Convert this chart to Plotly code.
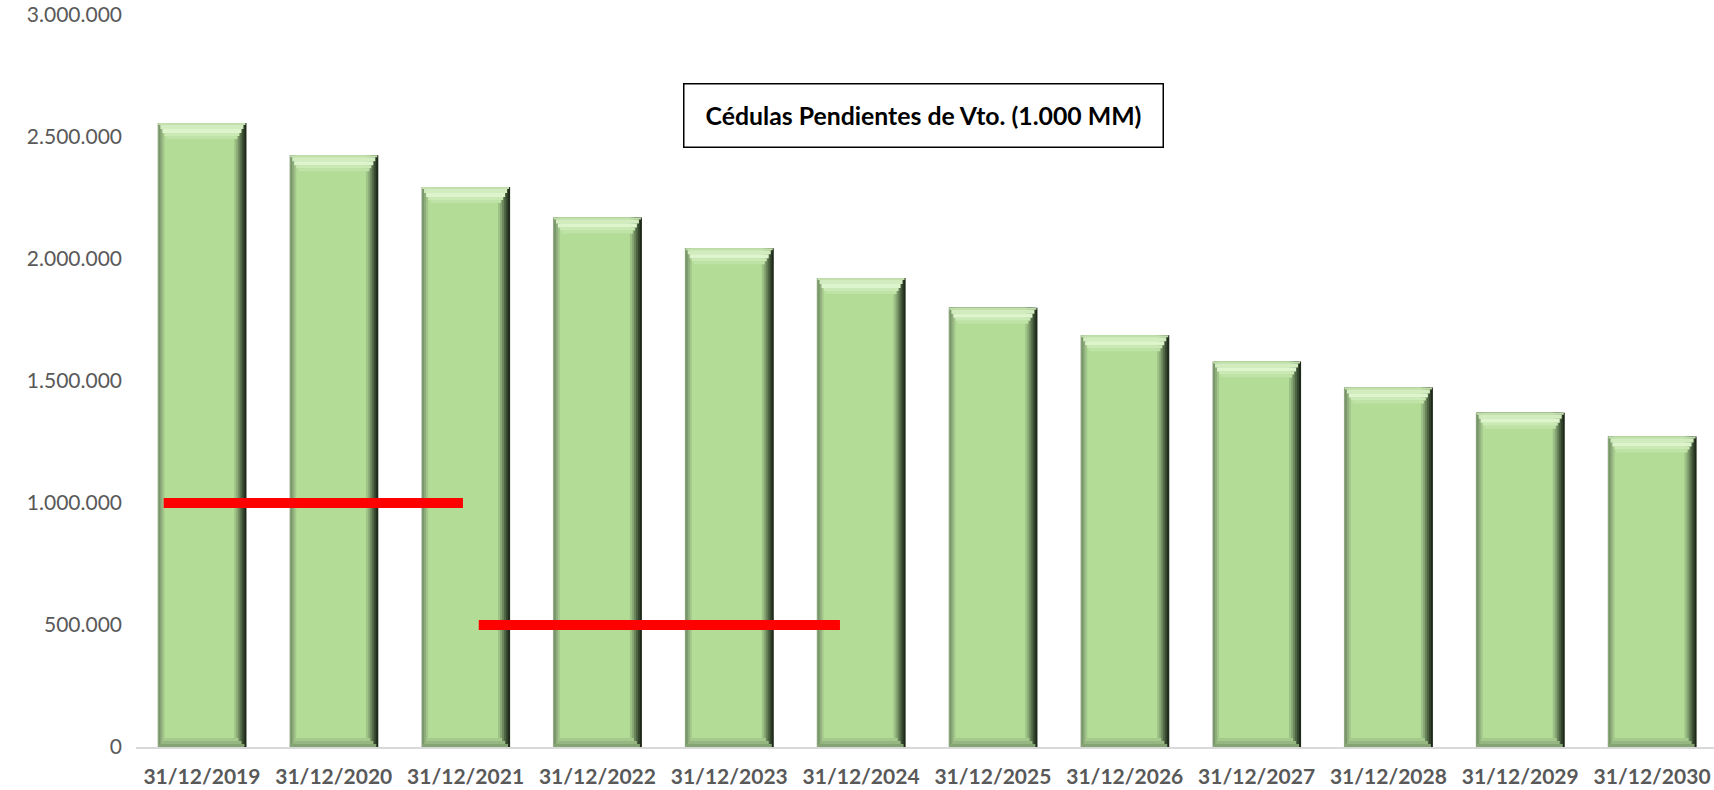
import plotly.graph_objects as go

# ---------------- data ----------------
dates = ["31/12/2019", "31/12/2020", "31/12/2021", "31/12/2022", "31/12/2023", "31/12/2024",
         "31/12/2025", "31/12/2026", "31/12/2027", "31/12/2028", "31/12/2029", "31/12/2030"]
values = [2557000, 2425000, 2295000, 2170000, 2044000, 1922000,
          1800000, 1688000, 1580000, 1473000, 1370000, 1273000]
limit_levels = [1000000, 500000]
limit_x_start = [-0.29, 2.10]
limit_x_end = [1.98, 4.84]
y_ticks = [0, 500000, 1000000, 1500000, 2000000, 2500000, 3000000]
title_text = "Cédulas Pendientes de Vto. (1.000 MM)"

# ---------------- layout geometry ----------------
W, H = 1714, 790
ML, MR, MT, MB = 136, 0, 15, 43
PITCH = 131.83  # px per category
PW, PH = W - ML - MR, H - MT - MB
XR = [-0.5, -0.5 + PW / PITCH]
YR = [0, 3000000]
px_x = PW / (XR[1] - XR[0])
px_y = PH / (YR[1] - YR[0])
BAR_W = 89  # px
xs = list(range(len(dates)))

fig = go.Figure()


def add_band(x0, x1, color, mode="full", r0=0, r1=0, main=False):
    if mode == "full":
        base = [0] * len(values)
        y = values
    elif mode == "top":
        base = [v - r1 / px_y for v in values]
        y = [(r1 - r0) / px_y] * len(values)
    else:  # bottom
        base = [r0 / px_y] * len(values)
        y = [(r1 - r0) / px_y] * len(values)
    fig.add_trace(go.Bar(
        x=xs, y=y, base=base,
        offset=(x0 - BAR_W / 2) / px_x, width=(x1 - x0) / px_x,
        marker=dict(color=color, line=dict(width=0)),
        showlegend=False,
        hoverinfo="skip" if not main else None,
        customdata=dates if main else None,
        hovertemplate="%{customdata}: %{y:,.0f}<extra></extra>" if main else None,
    ))


# side gradients (full height)
full_layers = [
    (0, 89, "#c4ccbf"),
    (1, 89, "#1f2a1b"),
    (1, 87, "#34452d"),
    (1, 85, "#4e6543"),
    (1, 83, "#6b865c"),
    (1, 81, "#88a774"),
    (1, 79, "#9fc387"),
    (1, 77, "#acd291"),
    (1, 77, "#7a966c"),
    (3, 77, "#8fae7c"),
    (5, 77, "#a3c68b"),
]
for x0, x1, c in full_layers:
    add_band(x0, x1, c)
add_band(7, 77, "#b3dc97", main=True)

# top bevel
top_layers = [
    (1, 88, "#c3dfad", 0, 2),
    (3, 86, "#d2ecbf", 2, 6),
    (5, 84, "#ddf4cd", 6, 10),
    (7, 82, "#cbe9b4", 10, 13),
    (9, 80, "#bfe2a6", 13, 16),
]
for x0, x1, c, r0, r1 in top_layers:
    add_band(x0, x1, c, mode="top", r0=r0, r1=r1)

# bottom bevel
bottom_layers = [
    (1, 87, "#86a473", 0, 3),
    (4, 84, "#96b781", 3, 6),
    (6, 81, "#a5c98d", 6, 9),
]
for x0, x1, c, r0, r1 in bottom_layers:
    add_band(x0, x1, c, mode="bottom", r0=r0, r1=r1)

# red limit lines
for lvl, xa, xb in zip(limit_levels, limit_x_start, limit_x_end):
    fig.add_trace(go.Scatter(
        x=[xa, xb], y=[lvl, lvl], mode="lines",
        line=dict(color="#ff0000", width=10),
        showlegend=False, hoverinfo="skip",
    ))

fig.add_annotation(
    xref="paper", yref="paper",
    x=(923 - ML) / PW, y=(H - MB - 116) / PH,
    xanchor="center", yanchor="middle",
    text="<b>" + title_text + "</b>",
    font=dict(family="Lato", size=24.8, color="#000000"),
    showarrow=False,
    bordercolor="#000000", borderwidth=1.5, borderpad=0,
    width=478, height=62, bgcolor="#ffffff", align="center",
)

fig.update_layout(
    width=W, height=H,
    margin=dict(l=ML, r=MR, t=MT, b=MB, pad=0),
    paper_bgcolor="#ffffff", plot_bgcolor="#ffffff",
    barmode="overlay",
    separators=",.",
    showlegend=False,
    font=dict(family="Lato", color="#595959"),
    xaxis=dict(
        range=XR, tickmode="array", tickvals=xs, ticktext=dates,
        tickfont=dict(family="Lato", size=21, color="#595959", weight="bold"),
        showgrid=False, zeroline=False, showline=True,
        linecolor="#d9d9d9", linewidth=1.5, ticks="",
        ticklabelstandoff=10, ticklabeloverflow="allow",
        automargin=False, fixedrange=True,
    ),
    yaxis=dict(
        range=YR, tickmode="array", tickvals=y_ticks,
        tickformat=",.0f",
        tickfont=dict(family="Lato", size=21, color="#595959"),
        showgrid=False, zeroline=False, showline=False, ticks="",
        ticklabelstandoff=13, ticklabeloverflow="allow",
        automargin=False, fixedrange=True,
    ),
)

fig.write_html(
    "out.html",
    config={"displayModeBar": False},
    post_script="document.body.style.margin='0px';document.body.style.overflow='hidden';",
)
